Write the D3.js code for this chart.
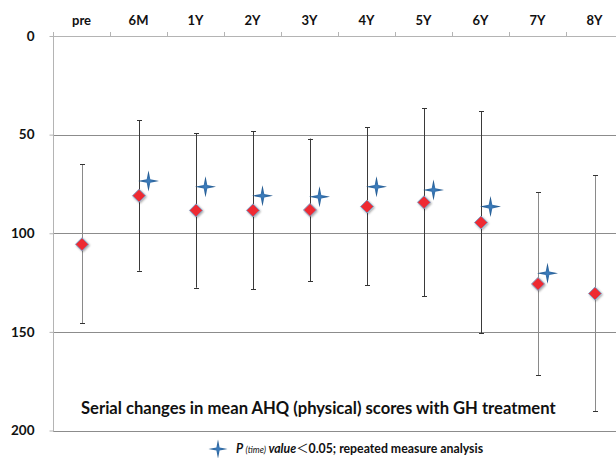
<!DOCTYPE html>
<html>
<head>
<meta charset="utf-8">
<script src="https://cdn.jsdelivr.net/npm/d3@7/dist/d3.min.js"></script>
<style>
  html, body { margin: 0; padding: 0; background: #fff; }
  svg { display: block; font-family: Lato, "Open Sans", sans-serif; }
</style>
</head>
<body>
<svg id="chart" width="616" height="458"></svg>
<script>
// Time points of follow-up
const categories = ["pre", "6M", "1Y", "2Y", "3Y", "4Y", "5Y", "6Y", "7Y", "8Y"];
// Mean AHQ (physical) score at each time point
const meanScores = [105.6, 81.0, 88.4, 88.4, 88.2, 86.5, 84.3, 94.6, 125.7, 130.6];
// Error bar extents (upper / lower)
const barTop    = [65.0, 42.8, 49.3, 48.3, 52.0, 46.3, 36.7, 38.2, 79.3, 70.6];
const barBottom = [145.7, 119.0, 127.6, 128.4, 124.4, 126.4, 132.0, 150.7, 172.0, 190.3];
// Time points with P(time) < 0.05 and the value marked for them
const sigCategories = ["6M", "1Y", "2Y", "3Y", "4Y", "5Y", "6Y", "7Y"];
const sigValues     = [73.5, 76.4, 81.0, 81.5, 76.4, 78.1, 86.5, 120.3];
// Value axis ticks
const yTicks = [0, 50, 100, 150, 200];

const titleText = "Serial changes in mean AHQ (physical) scores with GH treatment";

const svg = d3.select("#chart");

const plotLeft = 53, plotTop = 36, plotBottom = 430.5;
const x = d3.scaleBand().domain(categories).range([plotLeft, plotLeft + 57 * categories.length]).padding(0);
const y = d3.scaleLinear().domain([0, 200]).range([plotTop, plotBottom]);

// Horizontal gridlines
svg.append("g")
  .selectAll("line")
  .data(yTicks.filter(t => t > 0))
  .join("line")
  .attr("x1", plotLeft).attr("x2", 616)
  .attr("y1", d => Math.round(y(d)) + 0.5).attr("y2", d => Math.round(y(d)) + 0.5)
  .attr("stroke", "#8c8c8c").attr("stroke-width", 1);

// Value axis on the left (0 at the top)
const yAxis = svg.append("g")
  .attr("transform", `translate(${plotLeft + 0.5},0)`)
  .call(d3.axisLeft(y).tickValues(yTicks).tickSize(4).tickPadding(15).tickFormat(d3.format("d")));
yAxis.select(".domain").attr("stroke", "#b4b4b4").attr("d", `M0,${plotTop - 4}V${Math.round(plotBottom) + 0.5}`);
yAxis.selectAll(".tick line").attr("stroke", "#b4b4b4");
yAxis.selectAll(".tick text")
  .attr("font-size", 13.5).attr("font-weight", "bold").attr("fill", "#111")
  .attr("font-family", "Lato, sans-serif");

// Category axis along the top
const xAxis = svg.append("g")
  .attr("transform", `translate(0,${plotTop + 0.5})`)
  .call(d3.axisTop(x).tickSize(0).tickPadding(12));
xAxis.select(".domain").attr("stroke", "#b4b4b4").attr("d", `M${plotLeft},0H616`);
xAxis.selectAll(".tick text")
  .attr("font-size", 13).attr("font-weight", "bold").attr("fill", "#111")
  .attr("font-family", "Lato, sans-serif");
// Category separators
svg.append("g")
  .selectAll("line")
  .data(categories.slice(1))
  .join("line")
  .attr("x1", d => Math.round(x(d)) + 0.5).attr("x2", d => Math.round(x(d)) + 0.5)
  .attr("y1", plotTop - 4).attr("y2", plotTop + 0.5)
  .attr("stroke", "#b4b4b4");

const cx = d => x(d) + x.bandwidth() / 2;
const lightBars = new Set(["pre", "7Y", "8Y"]);

// Error bars
const bars = svg.append("g").selectAll("g")
  .data(categories.map((c, i) => ({ c, t: barTop[i], b: barBottom[i] })))
  .join("g")
  .attr("stroke", d => lightBars.has(d.c) ? "#8a8a8a" : "#3a3a3a")
  .attr("stroke-width", 1);
bars.append("line")
  .attr("x1", d => Math.round(cx(d.c)) + 0.5).attr("x2", d => Math.round(cx(d.c)) + 0.5)
  .attr("y1", d => y(d.t)).attr("y2", d => y(d.b));
bars.append("line")
  .attr("x1", d => Math.round(cx(d.c)) - 2).attr("x2", d => Math.round(cx(d.c)) + 3)
  .attr("y1", d => Math.round(y(d.t)) + 0.5).attr("y2", d => Math.round(y(d.t)) + 0.5)
  .attr("stroke", "#333");
bars.append("line")
  .attr("x1", d => Math.round(cx(d.c)) - 2).attr("x2", d => Math.round(cx(d.c)) + 3)
  .attr("y1", d => Math.round(y(d.b)) + 0.5).attr("y2", d => Math.round(y(d.b)) + 0.5)
  .attr("stroke", "#333");

// Four-pointed star marker
function starPath(r, w) {
  return `M0,${-r}L${w},${-w}L${r},0L${w},${w}L0,${r}L${-w},${w}L${-r},0L${-w},${-w}Z`;
}
const defs = svg.append("defs");
const sg = defs.append("radialGradient").attr("id", "starFill");
sg.append("stop").attr("offset", "0%").attr("stop-color", "#3f7fbf");
sg.append("stop").attr("offset", "100%").attr("stop-color", "#1b4f82");
const dg = defs.append("filter").attr("id", "shadow").attr("x", "-50%").attr("y", "-50%").attr("width", "200%").attr("height", "200%");
dg.append("feGaussianBlur").attr("in", "SourceAlpha").attr("stdDeviation", 0.8).attr("result", "b");
dg.append("feOffset").attr("dx", 1).attr("dy", 1).attr("result", "o");
dg.append("feComponentTransfer").append("feFuncA").attr("type", "linear").attr("slope", 0.35);
const m = dg.append("feMerge");
m.append("feMergeNode");
m.append("feMergeNode").attr("in", "SourceGraphic");

// Mean score diamonds
svg.append("g").selectAll("path")
  .data(categories.map((c, i) => ({ c, v: meanScores[i] })))
  .join("path")
  .attr("d", "M0,-6.5L6.5,0L0,6.5L-6.5,0Z")
  .attr("transform", d => `translate(${cx(d.c) + 0.5},${y(d.v)})`)
  .attr("fill", "#ee2a33")
  .attr("stroke", "#7f9cc4").attr("stroke-width", 1)
  .attr("filter", "url(#shadow)");

// Significance stars, set slightly to the right of each mean
svg.append("g").selectAll("path")
  .data(sigCategories.map((c, i) => ({ c, v: sigValues[i] })))
  .join("path")
  .attr("d", starPath(10.5, 1.8))
  .attr("transform", d => `translate(${cx(d.c) + 10},${y(d.v)})`)
  .attr("fill", "url(#starFill)");

// Chart title inside the plot
svg.append("text")
  .attr("x", 81).attr("y", 413.5)
  .attr("font-size", 16.6).attr("font-weight", "bold").attr("fill", "#111")
  .attr("font-family", "Lato, sans-serif")
  .text(titleText);

// Legend
svg.append("path")
  .attr("d", starPath(9.5, 1.6))
  .attr("transform", "translate(218,449)")
  .attr("fill", "url(#starFill)");
const leg = svg.append("text")
  .attr("x", 236).attr("y", 453)
  .attr("font-size", 12.3).attr("font-weight", "bold").attr("fill", "#111")
  .attr("font-family", "Lato, sans-serif");
leg.append("tspan").attr("font-style", "italic").text("P ");
leg.append("tspan").attr("font-style", "italic").attr("font-size", 8.8).attr("font-weight", "normal").text("(time)");
leg.append("tspan").attr("font-style", "italic").text(" value");
leg.append("tspan").attr("font-weight", "normal").attr("font-family", "'Noto Sans CJK JP', sans-serif").text("＜");
leg.append("tspan").text("0.05; repeated measure analysis");
</script>
</body>
</html>
